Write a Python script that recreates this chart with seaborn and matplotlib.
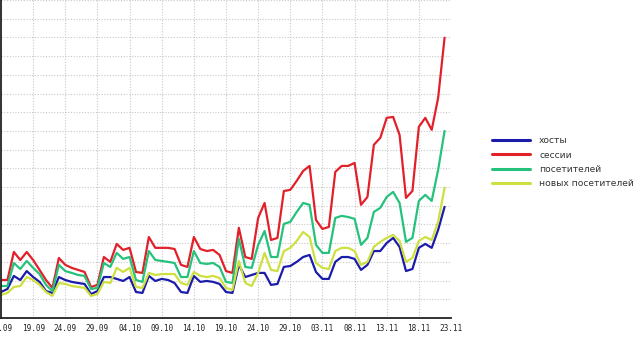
import matplotlib
matplotlib.use("Agg")
import matplotlib.pyplot as plt
import matplotlib.dates as mdates
import seaborn as sns
import pandas as pd

start_date = "2009-09-14"
n_days = 70

hosts = [139, 155, 225, 203, 251, 219, 193, 144, 134, 219, 203, 193, 187, 182, 128, 144,
         219, 219, 209, 198, 219, 139, 134, 225, 198, 209, 203, 187, 139, 134, 225, 193,
         198, 193, 182, 139, 134, 284, 219, 230, 241, 241, 177, 182, 273, 278, 300, 326,
         337, 246, 209, 209, 300, 326, 326, 316, 257, 284, 358, 358, 401, 428, 380, 251,
         262, 375, 396, 375, 471, 594]
sessions = [203, 203, 353, 310, 353, 310, 257, 203, 161, 321, 284, 268, 257, 246, 166, 177,
            326, 300, 396, 364, 375, 246, 241, 433, 375, 375, 375, 369, 284, 273, 433, 369,
            358, 364, 337, 251, 241, 482, 326, 316, 535, 615, 417, 428, 679, 685, 733, 786,
            813, 524, 476, 487, 781, 813, 813, 829, 605, 647, 926, 963, 1070, 1075, 979, 642,
            679, 1022, 1070, 1006, 1177, 1498]
visitors = [171, 171, 294, 262, 305, 268, 235, 177, 144, 284, 251, 241, 230, 225, 155, 161,
            294, 273, 348, 316, 326, 203, 193, 358, 310, 305, 300, 294, 219, 219, 358, 294,
            289, 294, 273, 193, 187, 423, 273, 268, 391, 465, 326, 326, 503, 514, 567, 615,
            605, 391, 348, 348, 535, 546, 540, 530, 391, 428, 567, 589, 647, 674, 615, 407,
            428, 626, 658, 626, 792, 1000]
new_visitors = [123, 134, 166, 171, 219, 203, 177, 139, 118, 187, 182, 171, 166, 161, 118, 128,
                193, 187, 268, 246, 268, 166, 161, 241, 230, 235, 235, 235, 187, 177, 246, 225,
                219, 225, 214, 161, 150, 305, 187, 171, 241, 348, 257, 251, 358, 375, 412, 460,
                433, 294, 268, 262, 358, 375, 375, 358, 284, 300, 380, 407, 428, 444, 412, 300,
                321, 412, 433, 417, 514, 696]

series_names = ["хосты", "сессии", "посетителей", "новых посетителей"]
series_colors = ["#1c1caa", "#e2202a", "#25c27c", "#cde040"]

dates = pd.date_range(start_date, periods=n_days, freq="D")
frames = []
for name, vals in zip(series_names, [hosts, sessions, visitors, new_visitors]):
    frames.append(pd.DataFrame({"date": dates, "value": vals, "series": name}))
df = pd.concat(frames, ignore_index=True)

sns.set_theme(style="white")
plt.rcParams["font.family"] = ["DejaVu Sans"]

fig = plt.figure(figsize=(6.4, 3.4), dpi=100)
ax = fig.add_axes([1 / 640, 22 / 340, 450 / 640, 1 - 22 / 340])

sns.lineplot(data=df, x="date", y="value", hue="series", hue_order=series_names,
             palette=series_colors, linewidth=1.6, ax=ax, legend=True)

x0 = pd.Timestamp(start_date)
x1 = x0 + pd.Timedelta(days=70)
ax.set_xlim(x0, x1)
ax.set_ylim(0, 1700)
ticks = pd.date_range(x0, x1, freq="5D")
ax.set_xticks(ticks)
ax.xaxis.set_major_formatter(mdates.DateFormatter("%d.%m"))
ax.set_yticks(range(0, 1701, 100))
ax.set_yticklabels([])
ax.tick_params(axis="x", length=0, pad=4, labelsize=5.6, labelcolor="#222222")
ax.tick_params(axis="y", length=0)
for lbl in ax.get_xticklabels():
    lbl.set_family("DejaVu Sans Mono")
ax.grid(True, color="#c8c8c8", linestyle=(0, (1, 1.5)), linewidth=0.8)
ax.set_xlabel("")
ax.set_ylabel("")
for s in ["top", "right"]:
    ax.spines[s].set_visible(False)
for s in ["left", "bottom"]:
    ax.spines[s].set_color("#222222")
    ax.spines[s].set_linewidth(1.3)

handles, labels = ax.get_legend_handles_labels()
ax.get_legend().remove()
leg = fig.legend(handles, labels, loc="upper left", bbox_to_anchor=(492 / 640, 1 - 136 / 340),
                 frameon=False, fontsize=6.6, handlelength=4.1, handletextpad=1.05,
                 labelspacing=0.6, borderpad=0, borderaxespad=0)
for t in leg.get_texts():
    t.set_color("#333333")
for h in leg.get_lines():
    h.set_linewidth(2.2)

fig.savefig("out.png", dpi=100)
